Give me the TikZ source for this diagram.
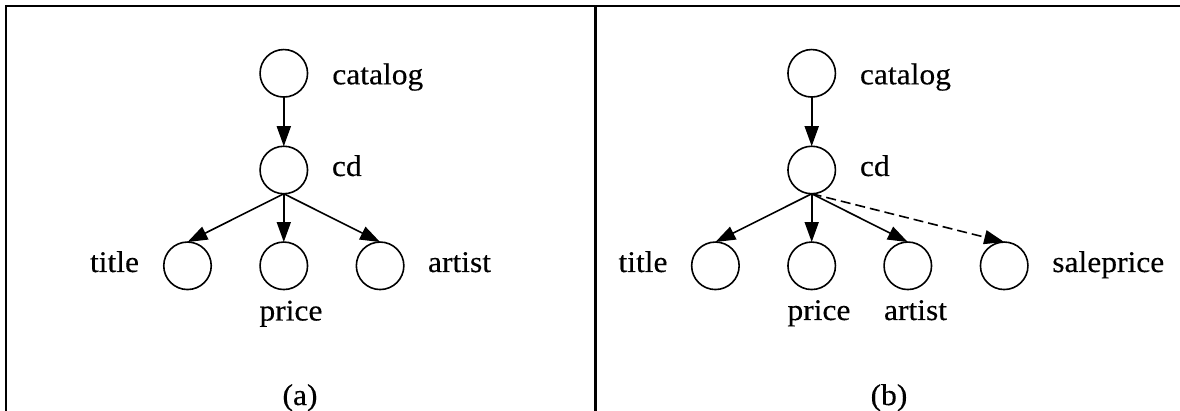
\documentclass[tikz,border=0pt]{standalone}
\usepackage{fontspec}
\setmainfont{Liberation Serif}[FakeStretch=1.05,FakeBold=0.3]
\usetikzlibrary{arrows.meta}
\begin{document}
\begin{tikzpicture}[x=1pt,y=-1pt,
  vtx/.style={circle,draw,line width=1.6pt,minimum size=47.5pt,inner sep=0pt,outer sep=0pt},
  lbl/.style={inner sep=0pt,outer sep=0pt,font=\fontsize{30}{32}\selectfont},
  arr/.style={line width=1.6pt,-{Triangle[length=20pt,width=14pt]}},
  darr/.style={arr,dash pattern=on 10pt off 5pt},
  frame/.style={line width=2.2pt}]
\useasboundingbox (0,0) rectangle (1180,411);
% frame
\coordinate (fbl) at (6,412);
\coordinate (ftl) at (6,6);
\coordinate (ftr) at (1181,6);
\coordinate (dtop) at (595.5,6);
\coordinate (dbot) at (595.5,412);
\draw[frame] (fbl) -- (ftl) -- (ftr);
\draw[frame] (dtop) -- (dbot);
% panel (a)
\node[vtx] (catA) at (283.8,73.3) {};
\node[vtx] (cdA) at (283.8,170) {};
\node[vtx] (titleA) at (187.5,265.8) {};
\node[vtx] (priceA) at (283.8,265.8) {};
\node[vtx] (artistA) at (380.1,265.8) {};
\node[lbl,anchor=base west] (catAl) at (332.3,84.3) {catalog};
\node[lbl,anchor=base west] (cdAl) at (332,176) {cd};
\node[lbl,anchor=base east] (titleAl) at (139,272) {title};
\node[lbl,anchor=base west] (priceAl) at (259.5,320.5) {price};
\node[lbl,anchor=base west] (artistAl) at (428,272) {artist};
\node[lbl,anchor=base] (capA) at (300,405) {(a)};
\draw[arr] (catA.south) -- (cdA.north);
\draw[arr] (cdA.south) -- (titleA.north);
\draw[arr] (cdA.south) -- (priceA.north);
\draw[arr] (cdA.south) -- (artistA.north);
% panel (b)
\node[vtx] (catB) at (811.7,73.3) {};
\node[vtx] (cdB) at (811.7,170) {};
\node[vtx] (titleB) at (715.4,265.8) {};
\node[vtx] (priceB) at (811.7,265.8) {};
\node[vtx] (artistB) at (907.8,265.8) {};
\node[vtx] (saleB) at (1004.2,265.8) {};
\node[lbl,anchor=base west] (catBl) at (860,84.3) {catalog};
\node[lbl,anchor=base west] (cdBl) at (860,176) {cd};
\node[lbl,anchor=base east] (titleBl) at (667.5,272) {title};
\node[lbl,anchor=base west] (priceBl) at (787.5,320) {price};
\node[lbl,anchor=base west] (artistBl) at (884,320) {artist};
\node[lbl,anchor=base west] (saleBl) at (1052.3,272) {saleprice};
\node[lbl,anchor=base] (capB) at (889,405) {(b)};
\draw[arr] (catB.south) -- (cdB.north);
\draw[arr] (cdB.south) -- (titleB.north);
\draw[arr] (cdB.south) -- (priceB.north);
\draw[arr] (cdB.south) -- (artistB.north);
\draw[darr] (cdB.south) -- (saleB.north);
\end{tikzpicture}
\end{document}
